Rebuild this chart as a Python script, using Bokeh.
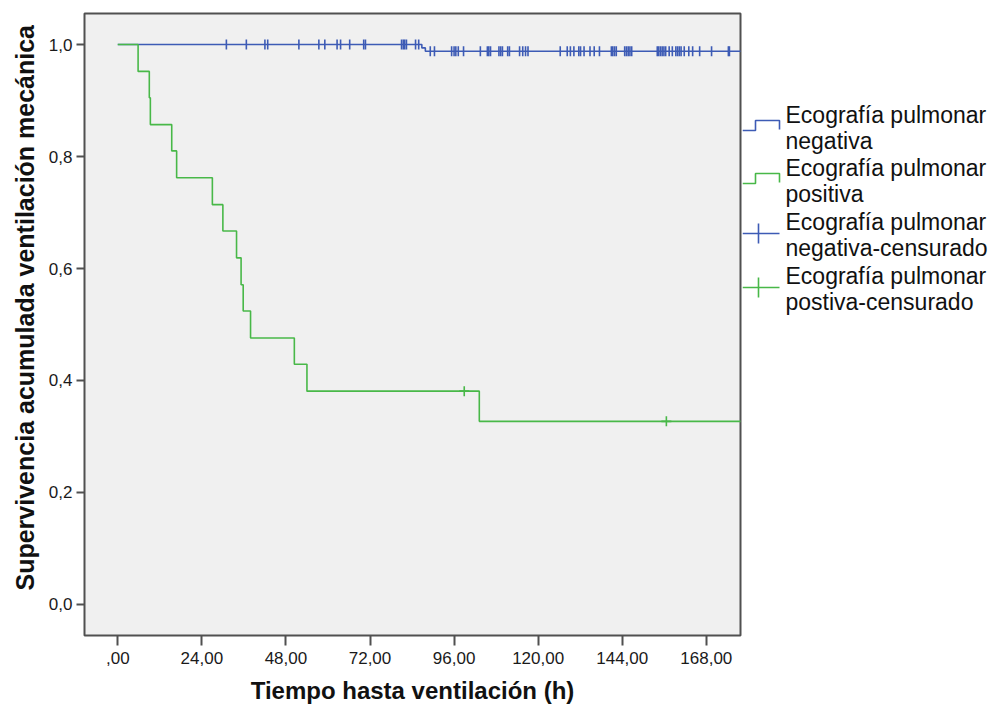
import numpy as np
from bokeh.plotting import figure
from bokeh.models import Range1d, FixedTicker, Title
from bokeh.layouts import row
from bokeh.core.properties import value
from bokeh.embed import file_html
from bokeh.resources import INLINE

# ---------------- data ----------------
x_ticks = [0, 24, 48, 72, 96, 120, 144, 168]
x_tick_labels = [",00", "24,00", "48,00", "72,00", "96,00", "120,00", "144,00", "168,00"]
y_ticks = [0.0, 0.2, 0.4, 0.6, 0.8, 1.0]
y_tick_labels = ["0,0", "0,2", "0,4", "0,6", "0,8", "1,0"]

# Ecografía pulmonar positiva (green): event times (h) and survival after each step
green_t = [0, 5.8, 9.0, 9.3, 15.4, 16.8, 27.0, 30.0, 33.9, 35.2, 35.8, 37.9, 50.4, 54.0, 103.2]
green_s = [1.0, 0.952, 0.905, 0.857, 0.810, 0.762, 0.714, 0.667, 0.619, 0.571, 0.524,
           0.476, 0.429, 0.381, 0.327]
green_cens = [98.9, 156.6]

# Ecografía pulmonar negativa (blue)
blue_t = [0, 86.8, 87.8]
blue_s = [1.0, 0.994, 0.988]
blue_cens = [31.0, 36.7, 42.0, 42.8, 51.7, 57.4, 59.1, 62.6, 63.6, 66.2, 70.2, 70.7,
             81.0, 81.5, 81.9, 82.4, 85.0, 85.9,
             89.2, 90.4, 95.3, 96.0, 96.5, 97.2, 98.7, 103.5, 105.5, 105.9, 106.4,
             108.8, 109.3, 109.8, 111.3, 111.8, 114.7, 115.6, 116.4, 117.1, 126.3,
             128.3, 129.2, 130.2, 131.6, 132.1, 133.1, 134.8, 136.0, 137.5, 140.9,
             141.3, 141.8, 142.3, 144.7, 145.2, 145.7, 146.2, 146.7, 154.0, 154.4,
             154.9, 155.4, 155.9, 156.4, 157.4, 158.3, 159.3, 159.8, 160.3, 160.8,
             161.7, 163.0, 164.1, 166.1, 169.5, 174.3, 174.6]
follow_up_end = 180.0

x_title = "Tiempo hasta ventilación (h)"
y_title = "Supervivencia acumulada ventilación mecánica"
legend_labels = [
    ["Ecografía pulmonar", "negativa"],
    ["Ecografía pulmonar", "positiva"],
    ["Ecografía pulmonar", "negativa-censurado"],
    ["Ecografía pulmonar", "postiva-censurado"],
]

BLUE = "#3D5BB5"
GREEN = "#48B848"
FRAME = "#505050"
FONT = "Liberation Sans"

# layout (pixels)
W1, H = 742, 706
BL, BR, BT, BB = 84, 2, 13, 71
W2 = 259
FRAME_TOP, FRAME_BOTTOM = BT, H - BB


def level_at(times, levels, t):
    idx = np.searchsorted(np.asarray(times), t, side="right") - 1
    return [levels[i] for i in idx]


# ---------------- main plot ----------------
p = figure(width=W1, height=H,
           x_range=Range1d(-9.5, 177.76), y_range=Range1d(-0.0554, 1.0554),
           output_backend="svg", toolbar_location=None,
           min_border_left=BL, min_border_right=BR, min_border_top=BT, min_border_bottom=BB,
           background_fill_color="#F0F0F0", border_fill_color="white",
           outline_line_color=FRAME, outline_line_width=2)
p.grid.visible = False

p.xaxis.ticker = FixedTicker(ticks=x_ticks)
p.xaxis.major_label_overrides = {t: l for t, l in zip(x_ticks, x_tick_labels)}
p.yaxis.ticker = FixedTicker(ticks=y_ticks)
p.yaxis.major_label_overrides = {t: l for t, l in zip(y_ticks, y_tick_labels)}
for ax in (p.xaxis, p.yaxis):
    ax.axis_line_color = None
    ax.minor_tick_line_color = None
    ax.major_tick_line_color = FRAME
    ax.major_tick_line_width = 2
    ax.major_tick_in = 0
    ax.major_label_text_font = FONT
    ax.major_label_text_font_size = "17px"
    ax.major_label_text_color = "#1a1a1a"
p.xaxis.major_tick_out = 10
p.xaxis.major_label_standoff = 6
p.yaxis.major_tick_out = 8
p.yaxis.major_label_standoff = 4

p.xaxis.axis_label = x_title
p.xaxis.axis_label_standoff = 10
p.xaxis.axis_label_text_font = FONT
p.xaxis.axis_label_text_font_size = "24px"
p.xaxis.axis_label_text_font_style = "bold"
p.xaxis.axis_label_text_color = "#111111"

# y title as a side-panel title so that it can sit where the reference has it
p.add_layout(Title(text=y_title, align="left", offset=45, standoff=14,
                   text_font=FONT, text_font_size="25px", text_font_style="bold",
                   text_color="#111111"), "left")

p.step(blue_t + [follow_up_end], blue_s + [blue_s[-1]], mode="after",
       line_color=BLUE, line_width=1.6)
p.step(green_t + [follow_up_end], green_s + [green_s[-1]], mode="after",
       line_color=GREEN, line_width=1.6)

p.scatter(blue_cens, level_at(blue_t, blue_s, blue_cens), marker="dash", angle=np.pi / 2,
          size=10, line_color=BLUE, line_width=1.6)
p.scatter(green_cens, level_at(green_t, green_s, green_cens), marker="cross",
          size=10, line_color=GREEN, line_width=1.6)

# ---------------- legend panel (data units = page pixels) ----------------
lg = figure(width=W2, height=H, x_range=Range1d(0, W2),
            y_range=Range1d(FRAME_BOTTOM, FRAME_TOP),
            output_backend="svg", toolbar_location=None,
            min_border_left=0, min_border_right=0, min_border_top=BT, min_border_bottom=BB,
            x_axis_type=None, y_axis_type=None, outline_line_color=None,
            background_fill_color="white", border_fill_color="white")
lg.grid.visible = False

item_top = [114, 167, 221, 275]
line_gap = 26
colors = [BLUE, GREEN, BLUE, GREEN]
for k, (lines, c) in enumerate(zip(legend_labels, colors)):
    yc = item_top[k] + 13
    if k < 2:
        lg.line([0, 13, 13, 37, 37], [yc + 3, yc + 3, yc - 7, yc - 7, yc + 2],
                line_color=c, line_width=1.6)
    else:
        lg.line([0, 37], [yc - 1, yc - 1], line_color=c, line_width=1.6)
        lg.line([16, 16], [yc - 11, yc + 9], line_color=c, line_width=1.6)
    lg.text([43, 43], [item_top[k], item_top[k] + line_gap], text=lines,
            text_font=value(FONT), text_font_size="23px", text_color="#111111",
            text_baseline="middle", text_align="left")

layout = row(p, lg)
open("out.html", "w").write(file_html(layout, INLINE))
